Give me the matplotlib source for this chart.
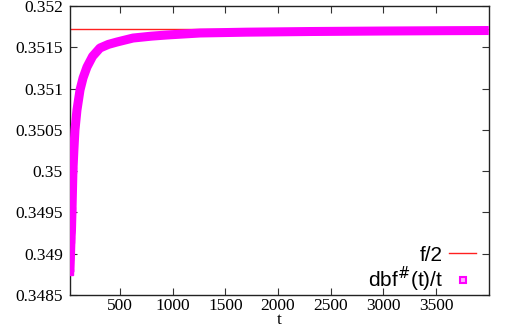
import matplotlib
matplotlib.use("Agg")
import matplotlib.pyplot as plt
from matplotlib.lines import Line2D

# values
t = [25, 30, 35, 40, 45, 54, 63, 73, 92, 121, 150, 187, 240, 310, 390, 472,
     624, 800, 947, 1260, 1700, 2307, 3000, 3600, 4000]
dbf = [0.348778, 0.348960, 0.349166, 0.349287, 0.349530, 0.350014, 0.350260,
       0.350498, 0.350740, 0.350983, 0.351130, 0.351261, 0.351390, 0.351491,
       0.351535, 0.351564, 0.351612, 0.351635, 0.351649, 0.351673, 0.351683,
       0.351691, 0.351697, 0.351701, 0.351703]
f_half = 0.351721
x_ticks = [500, 1000, 1500, 2000, 2500, 3000, 3500]
y_ticks = [0.3485, 0.349, 0.3495, 0.35, 0.3505, 0.351, 0.3515, 0.352]
y_labels = ["0.3485", "0.349", "0.3495", "0.35", "0.3505", "0.351", "0.3515", "0.352"]

plt.rcParams['font.family'] = ['Liberation Serif', 'DejaVu Serif']
plt.rcParams['font.size'] = 12.5
sans = ["Liberation Sans", "DejaVu Sans"]

fig = plt.figure(figsize=(5.14, 3.33), dpi=100)
ax = fig.add_axes([0.136, 0.114, 0.815, 0.868])

ax.axhline(f_half, color="#ff2020", lw=1.0, zorder=2)
# thick band of overlapping square points
ax.plot(t, dbf, color="#ff00ff", lw=6.5, solid_capstyle="butt", zorder=3)
ax.plot(t[:6], dbf[:6], ls="", marker="s", ms=5, color="#ff00ff", zorder=3)

ax.set_xlim(25, 4000)
ax.set_ylim(0.3485, 0.352)
ax.set_xticks(x_ticks, [str(v) for v in x_ticks])
ax.set_yticks(y_ticks, y_labels)
ax.tick_params(direction="in", length=5, width=0.8, top=True, right=True,
               color="#333333", labelsize=12.5)
ax.tick_params(axis="x", pad=2)
ax.tick_params(axis="y", pad=5)
for s in ax.spines.values():
    s.set_linewidth(1.0)
    s.set_color("#222222")
ax.set_xlabel("t", fontsize=12.5, labelpad=-1)

handles = [Line2D([], [], color="#ff2020", lw=1.0),
           Line2D([], [], ls="", marker="s", ms=4.5, mfc="#ffaaff", mec="#ff00ff", mew=1.5)]
ax.legend(handles, ["f/2", r"dbf$^{\#}$(t)/t"], loc="lower right", frameon=False,
          markerfirst=False, prop={"family": sans, "size": 15}, handlelength=1.3,
          handletextpad=0.3, labelspacing=0.0, borderaxespad=0.0,
          bbox_to_anchor=(0.99, -0.025))

fig.savefig("out.png", dpi=100)
